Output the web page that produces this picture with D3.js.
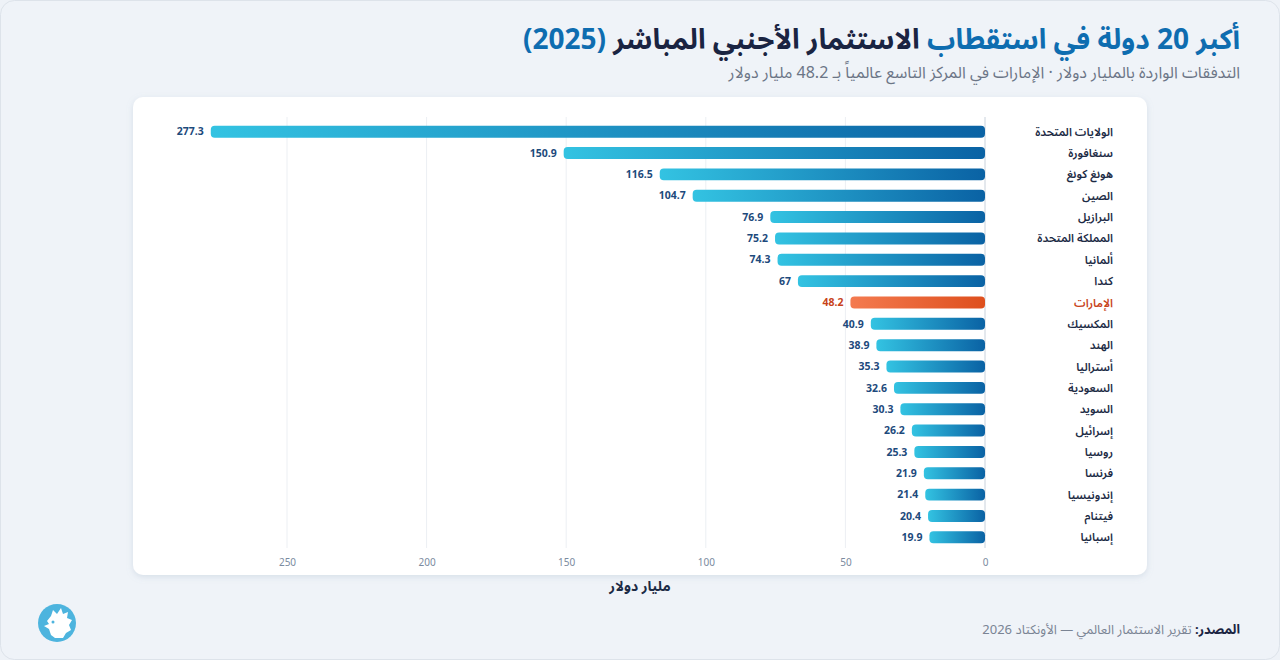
<!DOCTYPE html>
<html lang="ar">
<head>
<meta charset="utf-8">
<script src="https://cdn.jsdelivr.net/npm/d3@7"></script>
<style>
  html, body { margin: 0; padding: 0; }
  body { width: 1280px; height: 660px; background: #eef2f7; font-family: "Noto Sans Arabic", "Noto Sans", "DejaVu Sans", sans-serif; position: relative; overflow: hidden; }
  .txt { position: absolute; direction: rtl; white-space: nowrap; line-height: 1.2; }
</style>
</head>
<body>
<script>
// data
const countries = ["الولايات المتحدة", "سنغافورة", "هونغ كونغ", "الصين", "البرازيل", "المملكة المتحدة", "ألمانيا", "كندا", "الإمارات", "المكسيك",
  "الهند", "أستراليا", "السعودية", "السويد", "إسرائيل", "روسيا", "فرنسا", "إندونيسيا", "فيتنام", "إسبانيا"];
const fdiValues = [277.3, 150.9, 116.5, 104.7, 76.9, 75.2, 74.3, 67, 48.2, 40.9,
  38.9, 35.3, 32.6, 30.3, 26.2, 25.3, 21.9, 21.4, 20.4, 19.9];
const highlight = "الإمارات";
const tickValues = [0, 50, 100, 150, 200, 250];

const data = countries.map((c, i) => ({name: c, value: fdiValues[i]}));

const W = 1280, H = 660;
const body = d3.select("body");

// page frame + card
const svg = body.append("svg").attr("width", W).attr("height", H)
  .style("position", "absolute").style("left", 0).style("top", 0);

const defs = svg.append("defs");
const blueGrad = defs.append("linearGradient").attr("id", "blueGrad").attr("x1", "0%").attr("x2", "100%");
blueGrad.append("stop").attr("offset", "0%").attr("stop-color", "#33c3e2");
blueGrad.append("stop").attr("offset", "100%").attr("stop-color", "#0a62a4");
const orangeGrad = defs.append("linearGradient").attr("id", "orangeGrad").attr("x1", "0%").attr("x2", "100%");
orangeGrad.append("stop").attr("offset", "0%").attr("stop-color", "#f47b50");
orangeGrad.append("stop").attr("offset", "100%").attr("stop-color", "#de4f1d");
const shadow = defs.append("filter").attr("id", "shadow").attr("x", "-5%").attr("y", "-5%").attr("width", "110%").attr("height", "115%");
shadow.append("feDropShadow").attr("dx", 0).attr("dy", 2).attr("stdDeviation", 3)
  .attr("flood-color", "#8aa0b8").attr("flood-opacity", 0.25);

svg.append("rect").attr("x", 0.5).attr("y", 0.5).attr("width", W - 1).attr("height", H - 1)
  .attr("rx", 14).attr("fill", "#eff3f8").attr("stroke", "#dde3ea");

svg.append("rect").attr("x", 133).attr("y", 97).attr("width", 1014).attr("height", 478)
  .attr("rx", 10).attr("fill", "#fff").attr("filter", "url(#shadow)");

// scales
const x = d3.scaleLinear().domain([0, 300]).range([985, 147.4]);
const y = d3.scaleBand().domain(countries).range([121, 548]).paddingInner(0.44).paddingOuter(0.22);

// grid
svg.append("g").selectAll("line").data(tickValues).join("line")
  .attr("x1", d => x(d)).attr("x2", d => x(d))
  .attr("y1", 117).attr("y2", 548)
  .attr("stroke", d => d === 0 ? "#c9d2dc" : "#eceff3")
  .attr("stroke-width", 1);

// axis
const axis = d3.axisBottom(x).tickValues(tickValues).tickSize(0).tickPadding(0);
const gAxis = svg.append("g").attr("transform", "translate(0,558)").call(axis);
gAxis.select(".domain").remove();
gAxis.selectAll("text").attr("fill", "#7b8ba0").attr("font-size", 10)
  .attr("font-family", "'Noto Sans', sans-serif").attr("dy", "0.35em").attr("y", 4);

// bars
svg.append("g").selectAll("rect").data(data).join("rect")
  .attr("x", d => x(d.value))
  .attr("y", d => y(d.name))
  .attr("width", d => x(0) - x(d.value))
  .attr("height", y.bandwidth())
  .attr("rx", 4)
  .attr("fill", d => d.name === highlight ? "url(#orangeGrad)" : "url(#blueGrad)");

// value labels
svg.append("g").selectAll("text").data(data).join("text")
  .attr("x", d => x(d.value) - 7)
  .attr("y", d => y(d.name) + y.bandwidth() / 2)
  .attr("dy", "0.35em")
  .attr("text-anchor", "end")
  .attr("font-size", 10.5).attr("font-weight", 700)
  .attr("font-family", "'Noto Sans', sans-serif")
  .attr("fill", d => d.name === highlight ? "#c8431a" : "#1d4a7c")
  .text(d => d.value);

// country labels
svg.append("g").selectAll("text").data(data).join("text")
  .attr("x", 1113)
  .attr("y", d => y(d.name) + y.bandwidth() / 2)
  .attr("dy", "0.35em")
  .attr("direction", "rtl")
  .attr("text-anchor", "start")
  .attr("font-size", 11.5).attr("font-weight", 600)
  .attr("fill", d => d.name === highlight ? "#c8431a" : "#1c2b45")
  .text(d => d.name);

// axis title
svg.append("text").attr("x", 640).attr("y", 591).attr("direction", "rtl").attr("text-anchor", "middle")
  .attr("font-size", 14).attr("font-weight", 700).attr("fill", "#1c2b45").text("مليار دولار");

// logo
const logo = svg.append("g").attr("transform", "translate(57,623)");
logo.append("circle").attr("r", 19).attr("fill", "#4db4de");
logo.append("path")
  .attr("d", "M-10,-2 L-6,-7 L-4,-13 L0,-9 L4,-15 L6,-9 L11,-11 L10,-5 L15,-3 L12,2 L14,7 L9,10 L6,15 L-2,15 L-6,12 L-8,6 L-13,3 L-8,1 Z")
  .attr("fill", "#fff");
logo.append("circle").attr("cx", -4).attr("cy", -1).attr("r", 1.5).attr("fill", "#4db4de");

// titles (html for bidi text)
body.append("div").attr("class", "txt")
  .style("right", "40px").style("top", "24px")
  .style("font-size", "28px").style("font-weight", "700").style("color", "#1a2442")
  .html('<span style="color:#0e6db0">أكبر 20 دولة في استقطاب</span> الاستثمار الأجنبي المباشر <span style="color:#0e6db0">(2025)</span>');

body.append("div").attr("class", "txt")
  .style("right", "40px").style("top", "64px")
  .style("font-size", "16px").style("color", "#6b7586")
  .text("التدفقات الواردة بالمليار دولار · الإمارات في المركز التاسع عالمياً بـ 48.2 مليار دولار");

body.append("div").attr("class", "txt")
  .style("right", "40px").style("top", "623px")
  .style("font-size", "13px").style("color", "#7a8494")
  .html('<span style="color:#1a2442;font-weight:700">المصدر:</span> تقرير الاستثمار العالمي — الأونكتاد 2026');
</script>
</body>
</html>
